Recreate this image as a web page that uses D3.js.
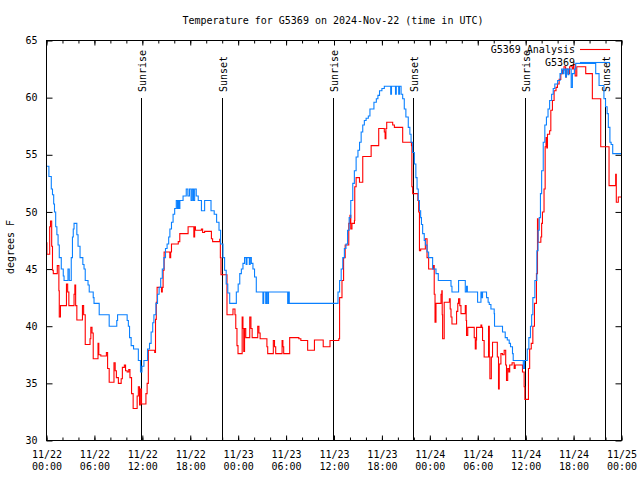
<!DOCTYPE html>
<html><head><meta charset="utf-8">
<script src="https://cdn.jsdelivr.net/npm/d3@7"></script>
<style>
body{margin:0;background:#fff;}
text{font-family:"DejaVu Sans Mono","Liberation Mono",monospace;font-size:10px;fill:#000;}
</style></head>
<body>
<svg id="chart" width="640" height="480"></svg>
<script>
// ---------- data ----------
const titleText = "Temperature for G5369 on 2024-Nov-22 (time in UTC)";
const yLabel = "degrees F";
const yTicks = [30, 35, 40, 45, 50, 55, 60, 65];
const xMajorHours = [0, 6, 12, 18, 24, 30, 36, 42, 48, 54, 60, 66, 72];
const xTickDates = ["11/22","11/22","11/22","11/22","11/23","11/23","11/23","11/23","11/24","11/24","11/24","11/24","11/25"];
const xTickTimes = ["00:00","06:00","12:00","18:00","00:00","06:00","12:00","18:00","00:00","06:00","12:00","18:00","00:00"];
const xMinorHours = d3.range(0, 73, 2);
const eventHours = [11.87, 21.93, 35.89, 45.93, 59.9, 69.93];
const eventLabels = ["Sunrise","Sunset","Sunrise","Sunset","Sunrise","Sunset"];
const seriesNames = ["G5369 Analysis", "G5369"];

// analysis (red): hours since 11/22 00:00 UTC, temperature F
const anaHours = [0,0.05,0.4,0.5,0.65,0.75,0.85,1.35,1.55,1.6,1.75,2.5,2.65,2.8,3.45,3.55,3.65,3.8,4.5,4.65,4.85,5.45,5.55,5.7,5.85,6.45,6.55,6.8,7.5,7.65,7.85,8.45,8.6,8.75,9.0,9.35,9.5,9.75,9.9,10.1,10.3,10.45,10.65,10.85,11.35,11.5,11.65,11.75,11.9,12.45,12.6,12.75,13.55,13.65,13.75,13.85,14.4,14.5,14.6,14.73,15.44,15.55,15.65,16.5,16.69,17.73,18.45,18.55,18.65,19.4,19.55,19.8,20.65,20.8,21.69,21.77,21.85,22.6,23.35,23.6,23.7,23.85,23.98,24.5,24.6,24.7,24.8,24.95,25.45,25.6,25.75,26.45,26.6,26.75,27.6,27.7,28.4,28.55,28.7,29.5,29.6,29.7,30.45,31.6,31.85,32.7,33.55,34.65,35.5,36.6,36.7,37.0,37.2,37.4,37.85,38.0,38.1,38.25,38.56,38.6,38.77,39.19,39.6,40.65,41.6,42.3,42.4,42.5,42.6,43.35,43.56,44.6,45.7,45.75,45.85,46.5,46.6,46.7,46.85,47.44,47.65,47.85,48.44,48.55,48.65,48.77,49.4,49.5,49.55,49.6,49.8,50.45,50.55,50.65,50.77,51.35,51.5,51.6,51.75,51.9,52.44,52.55,52.6,52.75,53.56,53.69,53.8,53.85,54.4,54.5,54.6,54.8,55.35,55.45,55.52,55.7,55.85,56.45,56.6,56.69,56.9,57.1,57.31,57.5,57.6,57.75,57.9,58.0,58.3,58.56,58.69,59.6,59.81,59.9,60.35,60.5,60.7,60.9,61.1,61.35,61.48,61.55,61.9,62.0,62.1,62.3,62.44,62.55,62.65,62.73,63.0,63.15,63.35,63.56,63.8,63.98,64.19,64.4,64.6,64.8,65.0,65.1,65.3,65.5,65.85,66.0,66.2,66.4,67.52,68.35,69.4,70.44,71.27,71.35,71.6,72];
const anaTemps = [47.3,46.3,48.7,49.2,47.0,44.9,44.6,45.3,43.1,40.8,41.8,43.7,43.0,41.8,42.8,43.6,41.8,40.55,41.8,41.0,38.4,38.9,39.9,39.4,37.15,38.5,37.5,37.4,37.7,36.3,35.1,36.8,36.1,35.5,35.0,35.4,36.4,36.6,36.1,36.0,36.2,35.5,34.1,32.8,33.9,34.7,33.1,34.5,33.2,34.1,35.0,37.9,37.7,40.6,42.1,43.4,43.0,43.4,44.9,46.5,46.0,46.5,47.2,47.4,48.1,48.7,47.8,48.7,48.4,48.5,48.2,48.3,47.65,47.4,47.6,46.0,44.5,41.0,41.5,41.0,39.8,38.3,37.6,40.8,39.8,37.8,39.8,39.0,40.8,39.8,39.0,40.0,39.4,38.9,38.2,37.6,38.75,38.2,37.6,38.75,38.2,37.6,39.0,38.9,38.75,37.9,38.8,38.2,38.75,38.9,42.5,44.0,46.0,47.1,49.0,49.7,48.5,49.0,49.25,52.2,53.0,52.6,54.85,55.8,57.3,57.0,56.4,57.3,57.85,57.6,57.4,56.1,55.8,52.2,51.6,51.0,50.0,46.6,46.75,47.65,46.0,45.0,45.3,42.8,40.35,42.0,42.8,43.1,41.0,38.9,42.1,42.4,41.5,40.8,40.2,41.3,42.0,42.4,41.8,41.1,41.8,40.5,39.2,39.9,39.0,38.0,38.8,39.9,40.1,39.9,38.75,37.3,40.0,37.3,35.4,37.3,38.6,37.3,34.5,36.7,37.6,37.5,37.9,36.6,35.25,36.3,36.0,36.6,36.8,36.3,36.6,36.0,34.7,33.6,36.3,38.0,38.5,40.0,42.0,44.6,49.4,47.35,47.8,49.0,50.0,52.0,55.7,56.5,55.6,56.8,57.1,58.9,59.75,60.6,60.9,61.2,61.6,62.1,62.4,62.7,61.8,62.5,62.1,62.7,62.5,62.9,61.9,62.7,62.1,59.9,55.7,52.3,53.3,50.85,51.3,51.3];

// station observations (blue)
const obsHours = [0,0.3,0.6,0.75,0.9,1.0,1.15,1.3,1.45,1.6,1.85,2.1,2.2,2.69,2.85,3.1,3.25,3.35,3.45,3.8,3.95,4.2,4.55,4.7,4.85,5.2,5.35,5.85,5.95,6.6,7.85,8.8,8.9,10.1,10.25,10.4,10.6,10.9,11.5,11.77,11.95,12.2,12.65,12.9,13.1,13.3,13.45,13.7,13.9,14.1,14.3,14.5,14.7,14.9,15.1,15.3,15.45,15.65,15.85,16.05,16.25,16.4,16.5,16.6,16.7,17.1,17.5,17.7,17.9,18.1,18.25,18.4,18.55,18.75,19.0,19.4,19.8,20.6,21.0,21.3,21.6,21.8,22.1,22.3,22.5,22.7,22.94,23.77,24.0,24.2,24.4,24.6,24.8,25.0,25.1,25.4,25.5,25.65,25.85,26.05,26.27,27.1,27.2,27.45,27.55,27.7,27.8,30.2,30.3,30.4,36.5,36.7,36.9,37.1,37.3,37.5,37.7,37.9,38.1,38.35,38.55,38.77,39.0,39.2,39.4,39.6,39.8,40.02,40.3,40.5,41.0,41.3,41.5,41.7,42.0,42.3,43.1,43.2,43.7,43.8,44.1,44.2,44.4,44.6,44.8,45.0,45.3,45.5,45.65,45.85,46.06,46.25,46.4,46.55,46.7,46.85,46.95,47.1,47.3,47.45,47.65,47.85,48.35,48.77,49.06,50.65,50.77,51.6,52.44,52.6,52.7,53.98,54.4,54.5,54.6,55.1,55.3,55.44,55.65,56.06,56.1,57.1,57.44,57.7,57.94,58.1,58.35,58.44,59.7,59.85,60.2,60.4,60.6,60.75,60.9,61.15,61.4,61.55,61.7,61.85,62.0,62.2,62.4,62.6,62.8,63.0,63.25,63.45,63.65,64.0,64.3,64.5,64.7,64.8,65.0,65.1,65.3,65.4,65.7,65.85,66.1,66.27,68.77,69.19,69.8,70.0,70.2,70.35,70.55,70.7,70.9,72];
const obsTemps = [54.0,53.1,52.0,51.5,50.7,50.0,48.7,48.0,47.1,46.0,45.0,44.4,44.0,45.0,44.0,46.0,47.8,48.5,49.0,48.0,47.0,46.0,45.4,45.0,44.0,43.6,43.0,42.5,42.0,41.0,40.0,40.5,41.0,40.5,40.0,39.0,38.3,38.0,37.0,36.0,36.5,37.0,38.0,38.5,39.5,40.3,41.0,42.0,42.8,43.4,44.2,45.0,46.0,46.8,47.2,47.8,48.5,49.1,49.8,50.3,51.0,50.3,51.0,50.3,51.0,51.4,52.0,51.4,52.0,51.0,52.0,51.0,52.0,51.4,51.0,50.1,51.0,50.1,49.8,49.1,48.4,47.2,46.0,44.9,43.7,42.9,42.0,43.0,43.7,44.6,45.0,45.5,46.0,45.4,46.0,45.4,46.0,45.5,45.0,44.3,43.0,42.0,43.0,42.0,43.0,42.0,43.0,42.0,43.0,42.0,43.0,44.0,45.0,46.0,46.8,47.2,48.4,49.5,51.0,52.5,53.6,54.8,55.4,56.1,57.0,57.6,58.0,58.2,58.4,59.0,59.6,59.9,60.2,60.6,60.8,61.0,60.3,61.0,60.3,61.0,60.3,61.0,60.3,59.9,59.0,58.3,57.4,56.8,56.1,55.2,54.2,53.0,52.0,51.0,50.1,49.5,48.9,48.1,47.5,47.1,46.5,46.0,45.0,44.6,44.0,43.5,43.0,44.0,43.0,43.5,43.0,42.1,43.0,42.5,43.0,42.5,42.1,41.9,41.5,41.1,40.0,39.5,39.0,38.8,38.5,38.2,37.6,37.0,36.3,37.0,38.0,39.0,40.0,41.0,42.5,44.0,46.6,48.4,49.5,51.6,53.6,56.1,57.6,58.3,59.0,59.75,60.3,60.8,61.2,61.5,62.1,62.5,62.1,62.5,61.8,62.5,62.0,62.5,60.9,62.1,62.5,63.0,62.1,61.06,59.9,59.2,58.6,57.4,56.1,55.9,55.1,55.1];

// ---------- drawing ----------
const svg = d3.select("#chart");
const L = 46.5, R = 621.5, T = 40.5, B = 440.5;
const x = d3.scaleLinear().domain([0, 72]).range([L, R]);
const y = d3.scaleLinear().domain([30, 65]).range([B, T]);

svg.append("text").attr("x", 333).attr("y", 24).attr("text-anchor", "middle").text(titleText);

// y axis (left, ticks inward) and right mirror
const yAxisL = d3.axisLeft(y).tickValues(yTicks).tickSizeInner(-6).tickSizeOuter(0).tickPadding(9);
const gyl = svg.append("g").attr("transform", `translate(${L},0)`).call(yAxisL);
gyl.select(".domain").remove();
gyl.selectAll("text").style("font-family", "DejaVu Sans Mono").style("font-size", "10px");
const yAxisR = d3.axisRight(y).tickValues(yTicks).tickSizeInner(-6).tickSizeOuter(0).tickFormat("");
const gyr = svg.append("g").attr("transform", `translate(${R},0)`).call(yAxisR);
gyr.select(".domain").remove();

// x axis minor ticks (bottom & top)
const xMinorB = d3.axisBottom(x).tickValues(xMinorHours).tickSizeInner(-3).tickSizeOuter(0).tickFormat("");
svg.append("g").attr("transform", `translate(0,${B})`).call(xMinorB).select(".domain").remove();
const xMinorT = d3.axisTop(x).tickValues(xMinorHours).tickSizeInner(-3).tickSizeOuter(0).tickFormat("");
svg.append("g").attr("transform", `translate(0,${T})`).call(xMinorT).select(".domain").remove();

// x axis major ticks with two-line labels
const xAxisB = d3.axisBottom(x).tickValues(xMajorHours).tickSizeInner(-5).tickSizeOuter(0).tickPadding(12)
  .tickFormat((d, i) => "");
const gxb = svg.append("g").attr("transform", `translate(0,${B})`).call(xAxisB);
gxb.select(".domain").remove();
gxb.selectAll(".tick").each(function(d, i) {
  const t = d3.select(this).select("text");
  t.text(null).attr("y", 0).attr("dy", null);
  t.append("tspan").attr("x", 0).attr("y", 17.5).text(xTickDates[i]);
  t.append("tspan").attr("x", 0).attr("y", 29.5).text(xTickTimes[i]);
});
gxb.selectAll("text").style("font-family", "DejaVu Sans Mono").style("font-size", "10px");
const xAxisT = d3.axisTop(x).tickValues(xMajorHours).tickSizeInner(-5).tickSizeOuter(0).tickFormat("");
svg.append("g").attr("transform", `translate(0,${T})`).call(xAxisT).select(".domain").remove();

// y label
svg.append("text").attr("transform", "translate(14,247) rotate(-90)").attr("text-anchor", "middle").text(yLabel);

// sunrise / sunset markers
eventHours.forEach((h, i) => {
  const xx = Math.round(x(h)) + 0.5;
  svg.append("line").attr("x1", xx).attr("x2", xx).attr("y1", 98).attr("y2", B)
    .attr("stroke", "#000").attr("stroke-width", 1);
  svg.append("text").attr("transform", `translate(${xx + 4},92) rotate(-90)`)
    .attr("text-anchor", "start").text(eventLabels[i]);
});

// series
const line = d3.line().curve(d3.curveStepAfter).x(d => x(d[0])).y(d => y(d[1]));
const anaData = anaHours.map((h, i) => [h, anaTemps[i]]);
const obsData = obsHours.map((h, i) => [h, obsTemps[i]]);
svg.append("path").datum(anaData).attr("d", line).attr("fill", "none")
  .attr("stroke", "#ff0000").attr("stroke-width", 1.1);
svg.append("path").datum(obsData).attr("d", line).attr("fill", "none")
  .attr("stroke", "#0a80ff").attr("stroke-width", 1.1);

// border
svg.append("rect").attr("x", L).attr("y", T).attr("width", R - L).attr("height", B - T)
  .attr("fill", "none").attr("stroke", "#000").attr("stroke-width", 1);

// legend
const legColors = ["#ff0000", "#0a80ff"];
seriesNames.forEach((n, i) => {
  const ly = 49.5 + i * 13;
  svg.append("text").attr("x", 575).attr("y", ly + 3.5).attr("text-anchor", "end").text(n);
  svg.append("line").attr("x1", 580).attr("x2", 610).attr("y1", ly).attr("y2", ly)
    .attr("stroke", legColors[i]).attr("stroke-width", 1.1);
});
</script>
</body></html>
